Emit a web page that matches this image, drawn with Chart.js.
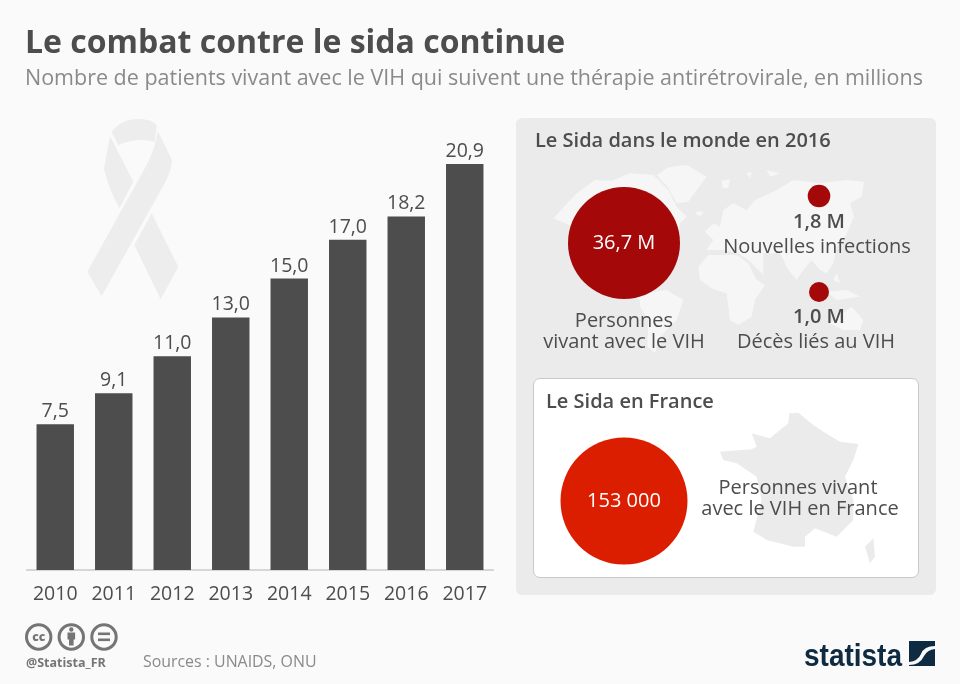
<!DOCTYPE html>
<html lang="fr">
<head>
<meta charset="utf-8">
<title>Le combat contre le sida continue</title>
<script src="https://cdn.jsdelivr.net/npm/chart.js@4/dist/chart.umd.min.js"></script>
<style>
  html, body { margin: 0; padding: 0; background: #fafafa; }
  #page { position: relative; width: 960px; height: 684px; overflow: hidden; font-family: "Open Sans", sans-serif; }
  #page > svg { position: absolute; left: 0; top: 0; pointer-events: none; }
  .box { position: absolute; }
  .box canvas { display: block; }
  #barBox { left: 26px; top: 110px; width: 468px; height: 500px; }
  #b0 { left: 564px; top: 182.5px; width: 120px; height: 120px; }
  #b1 { left: 804px; top: 180.5px; width: 30px; height: 30px; }
  #b2 { left: 804px; top: 276.5px; width: 30px; height: 30px; }
  #b3 { left: 556px; top: 432.5px; width: 136px; height: 136px; }
  #panel { position: absolute; left: 516px; top: 118px; width: 420px; height: 477px; background: #ebebeb; border-radius: 6px; }
  #card { position: absolute; left: 533px; top: 378px; width: 384px; height: 198px; background: #fff; border: 1px solid #c9c9c9; border-radius: 7px; }
  text { font-family: "Open Sans", sans-serif; fill: #4d4d4d; }
</style>
</head>
<body>
<div id="page">
  <div id="panel"></div>
  <div id="card"></div>

  <svg width="960" height="684" viewBox="0 0 960 684">
    <!-- ruban -->
    <g transform="scale(0.33333)" fill="#ededed">
      <path d="M335 395 Q365 357 415 357 Q455 357 470 375 L465 425 Q410 412 355 435 Z"/>
      <path d="M330 408 L400 545 L358 625 Q325 565 312 505 Z"/>
      <path d="M473 392 L516 480 Q515 510 495 548 L305 888 L262 815 L440 495 Q468 440 473 392 Z"/>
      <path d="M455 640 L535 800 L482 898 L403 735 Z"/>
    </g>
    <!-- carte du monde : Amériques -->
    <g transform="translate(540 160) scale(0.33333)" fill="#f6f6f6">
      <path d="M40 175 L110 100 L165 60 L215 62 L270 40 L340 45 L385 90 L410 140 L440 170 L420 190 L400 260 L350 340 L330 380 L300 420 L250 400 L100 200 Z"/>
      <path d="M350 45 L385 22 L440 15 L500 50 L470 90 L445 125 L410 130 L385 85 Z"/>
      <path d="M300 415 L340 395 L380 390 L430 420 L410 480 L360 530 L345 580 L322 560 L325 480 L300 440 Z"/>
      <path d="M468 155 L490 155 L482 168 L470 165 Z"/>
    </g>
    <!-- carte du monde : Eurasie, Afrique, Océanie -->
    <g transform="translate(680 160) scale(0.33333)" fill="#f6f6f6">
      <path d="M75 215 L100 190 L120 200 L130 150 L160 130 L200 150 L225 120 L290 90 L340 60 L420 70 L500 60 L552 65 L545 110 L510 130 L522 170 L495 230 L470 260 L460 310 L440 340 L420 330 L395 300 L370 330 L350 360 L325 330 L300 280 L250 280 L250 345 L205 300 L175 280 L130 270 L80 270 L100 240 Z"/>
      <path d="M55 320 L85 285 L170 285 L205 310 L230 360 L255 375 L225 420 L215 470 L175 495 L150 480 L140 400 L95 385 L60 360 Z"/>
      <path d="M450 490 L480 465 L515 440 L550 480 L540 510 L490 510 Z"/>
      <path d="M440 395 L500 390 L540 410 L470 420 Z"/>
      <path d="M125 62 L150 58 L145 85 L128 85 Z"/>
      <path d="M48 157 L68 155 L60 167 Z"/>
      <path d="M260 30 L300 40 L270 50 Z"/>
      <path d="M200 40 L215 35 L210 55 Z"/>
      <path d="M470 340 L480 370 L460 360 Z"/>
    </g>
    <!-- carte de France -->
    <g transform="translate(700 400) scale(0.33333)" fill="#ebebeb">
      <path d="M60 155 L155 148 L170 140 L155 100 L210 115 L240 90 L265 70 L268 40 L295 38 L340 75 L370 95 L420 125 L475 132 L460 180 L435 230 L460 300 L460 360 L410 410 L345 385 L315 410 L315 440 L280 440 L200 420 L160 395 L185 300 L170 230 L110 190 L70 180 Z"/>
      <path d="M495 440 L520 415 L525 470 L510 490 Z"/>
    </g>
  </svg>

  <div class="box" id="barBox"><canvas id="barChart"></canvas></div>
  <div class="box" id="b0"><canvas id="bubble0"></canvas></div>
  <div class="box" id="b1"><canvas id="bubble1"></canvas></div>
  <div class="box" id="b2"><canvas id="bubble2"></canvas></div>
  <div class="box" id="b3"><canvas id="bubble3"></canvas></div>

  <svg width="960" height="684" viewBox="0 0 960 684">
    <text x="25" y="53" font-size="32" font-weight="700">Le combat contre le sida continue</text>
    <text x="25" y="85" font-size="21.5" style="fill:#8a8a8a">Nombre de patients vivant avec le VIH qui suivent une thérapie antirétrovirale, en millions</text>

    <text x="535" y="147" font-size="20" font-weight="600">Le Sida dans le monde en 2016</text>
    <text x="624" y="249" font-size="20" text-anchor="middle" style="fill:#fff">36,7 M</text>
    <text x="624" y="327" font-size="20" text-anchor="middle">Personnes</text>
    <text x="624" y="348" font-size="20" text-anchor="middle">vivant avec le VIH</text>
    <text x="819" y="228" font-size="20" font-weight="600" text-anchor="middle">1,8 M</text>
    <text x="817" y="253" font-size="20" text-anchor="middle">Nouvelles infections</text>
    <text x="819" y="323" font-size="20" font-weight="600" text-anchor="middle">1,0 M</text>
    <text x="816" y="348" font-size="20" text-anchor="middle">Décès liés au VIH</text>

    <text x="546" y="408" font-size="20" font-weight="600">Le Sida en France</text>
    <text x="624" y="507" font-size="20" text-anchor="middle" style="fill:#fff">153 000</text>
    <text x="798" y="494" font-size="20" text-anchor="middle">Personnes vivant</text>
    <text x="800" y="515" font-size="20" text-anchor="middle">avec le VIH en France</text>

    <!-- licence -->
    <g fill="none" stroke="#757575" stroke-width="3">
      <circle cx="38.7" cy="637" r="12.2"/>
      <circle cx="71.3" cy="637" r="12.2"/>
      <circle cx="104" cy="637" r="12.2"/>
    </g>
    <text x="38.7" y="641" font-size="12" font-weight="800" text-anchor="middle" style="fill:#757575">cc</text>
    <g fill="#757575">
      <circle cx="71.3" cy="629.5" r="2.2"/>
      <rect x="67.5" y="632.5" width="7.6" height="7"/>
      <rect x="69" y="638" width="4.6" height="7.5"/>
      <rect x="98" y="632.5" width="12" height="2.6"/>
      <rect x="98" y="638.5" width="12" height="2.6"/>
    </g>
    <text x="26" y="667" font-size="12.5" font-weight="700" style="fill:#757575">@Statista_FR</text>
    <text x="143" y="667" font-size="15.9" style="fill:#8a8a8a">Sources : UNAIDS, ONU</text>

    <!-- logo -->
    <text x="804" y="666" font-size="32" font-weight="700" textLength="98" lengthAdjust="spacingAndGlyphs" style="font-family:'Liberation Sans Narrow','Liberation Sans',sans-serif;fill:#0f2b42">statista</text>
    <path d="M909 641 H935 V646 Q924 646 921 654 Q918 661 909 662 Z" fill="#0f2b42"/>
    <path d="M935 649 V666 H909 V665 Q920 665 924 656 Q927 650 935 649 Z" fill="#0f2b42"/>
  </svg>
</div>

<script>
// barres
const years = ["2010", "2011", "2012", "2013", "2014", "2015", "2016", "2017"];
const patients = [7.5, 9.1, 11.0, 13.0, 15.0, 17.0, 18.2, 20.9];
const patientLabels = ["7,5", "9,1", "11,0", "13,0", "15,0", "17,0", "18,2", "20,9"];

// cercles
const bubbleValues = [36.7, 1.8, 1.0, 153000];
const bubbleRadii = [56, 11.3, 10, 63.5];
const bubbleColors = ["#a50808", "#a50808", "#a50808", "#dc1e00"];

Chart.defaults.animation = false;
Chart.defaults.font.family = '"Open Sans", sans-serif';

const valueLabels = {
    id: "valueLabels",
    afterDatasetsDraw(chart) {
        const ctx = chart.ctx;
        ctx.save();
        ctx.font = '19.5px "Open Sans", sans-serif';
        ctx.fillStyle = "#4d4d4d";
        ctx.textAlign = "center";
        ctx.textBaseline = "alphabetic";
        chart.getDatasetMeta(0).data.forEach((bar, i) => {
            ctx.fillText(patientLabels[i], bar.x, bar.y - 7);
        });
        ctx.restore();
    }
};

new Chart(document.getElementById("barChart"), {
    type: "bar",
    data: {
        labels: years,
        datasets: [{
            data: patients,
            backgroundColor: "#4d4d4d",
            barPercentage: 0.64,
            categoryPercentage: 1
        }]
    },
    options: {
        responsive: true,
        maintainAspectRatio: false,
        layout: { padding: 0 },
        plugins: { legend: { display: false }, tooltip: { enabled: false } },
        scales: {
            x: {
                grid: { display: false },
                border: { display: true, color: "#d6d6d6", width: 2 },
                ticks: { color: "#4d4d4d", font: { size: 19.5 }, padding: 5, maxRotation: 0, autoSkip: false },
                afterFit: scale => { scale.height = 40; }
            },
            y: { display: false, min: 0, max: 23.68 }
        }
    },
    plugins: [valueLabels]
});

// un graphique par cercle, centré dans son cadre
bubbleValues.forEach((value, i) => {
    new Chart(document.getElementById("bubble" + i), {
        type: "bubble",
        data: {
            datasets: [{
                data: [{ x: 0, y: 0, r: bubbleRadii[i], v: value }],
                backgroundColor: bubbleColors[i],
                borderWidth: 0,
                clip: false
            }]
        },
        options: {
            responsive: true,
            maintainAspectRatio: false,
            layout: { padding: 0, autoPadding: false },
            plugins: { legend: { display: false }, tooltip: { enabled: false } },
            scales: {
                x: { display: false, min: -1, max: 1 },
                y: { display: false, min: -1, max: 1 }
            }
        }
    });
});
</script>
</body>
</html>
